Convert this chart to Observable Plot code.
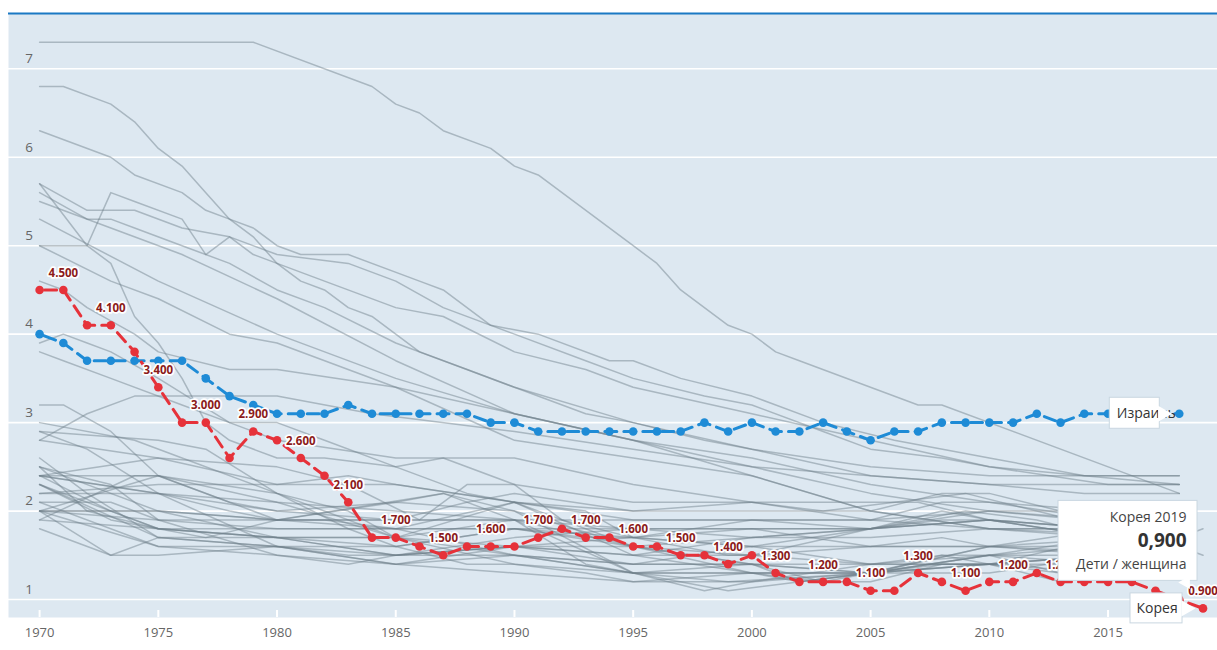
<!DOCTYPE html>
<html><head><meta charset="utf-8">
<script src="https://cdn.jsdelivr.net/npm/d3@7"></script>
<script src="https://cdn.jsdelivr.net/npm/@observablehq/plot@0.6"></script>
<style>html,body{margin:0;padding:0;background:#fff;overflow:hidden;}</style>
</head><body><div id="chart"></div>
<script>
// ---------- tick labels ----------
const xTicks = [1970, 1975, 1980, 1985, 1990, 1995, 2000, 2005, 2010, 2015];
const yTicks = [1, 2, 3, 4, 5, 6, 7];

// ---------- highlighted series ----------
const koreaName = "Корея";
const israelName = "Израиль";
const unitLabel = "Дети / женщина";
const koreaStart = 1970;
const koreaValues = [4.5,4.5,4.1,4.1,3.8,3.4,3.0,3.0,2.6,2.9,
                     2.8,2.6,2.4,2.1,1.7,1.7,1.6,1.5,1.6,1.6,
                     1.6,1.7,1.8,1.7,1.7,1.6,1.6,1.5,1.5,1.4,
                     1.5,1.3,1.2,1.2,1.2,1.1,1.1,1.3,1.2,1.1,
                     1.2,1.2,1.3,1.2,1.2,1.2,1.2,1.1,1.0,0.9];
const israelStart = 1970;
const israelValues = [4.0,3.9,3.7,3.7,3.7,3.7,3.7,3.5,3.3,3.2,
                      3.1,3.1,3.1,3.2,3.1,3.1,3.1,3.1,3.1,3.0,
                      3.0,2.9,2.9,2.9,2.9,2.9,2.9,2.9,3.0,2.9,
                      3.0,2.9,2.9,3.0,2.9,2.8,2.9,2.9,3.0,3.0,
                      3.0,3.0,3.1,3.0,3.1,3.1,3.1,3.1,3.1];
// years whose value labels are hidden behind the tooltip in the reference
const hiddenLabelYears = [2015, 2017];

// ---------- other countries (grey), [year, value] ----------
const g01 = [[1970,7.3],[1979,7.3],[1984,6.8],[1985,6.6],[1986,6.5],[1987,6.3],[1989,6.1],[1990,5.9],[1991,5.8],[1995,5.0],[1996,4.8],[1997,4.5],[1999,4.1],[2000,4.0],[2001,3.8],[2002,3.7],[2007,3.2],[2008,3.2],[2018,2.2]];
const g02 = [[1970,6.8],[1971,6.8],[1973,6.6],[1974,6.4],[1975,6.1],[1976,5.9],[1977,5.6],[1978,5.3],[1979,5.1],[1980,4.8],[1981,4.6],[1982,4.5],[1983,4.3],[1984,4.2],[1985,4.0],[1986,3.8],[1988,3.6],[1990,3.4],[1995,3.0],[2000,2.7],[2005,2.4],[2010,2.3],[2014,2.2],[2018,2.2]];
const g03 = [[1970,6.3],[1973,6.0],[1974,5.8],[1976,5.6],[1977,5.4],[1978,5.3],[1979,5.2],[1980,5.0],[1981,4.9],[1983,4.9],[1986,4.6],[1987,4.5],[1989,4.1],[1991,4.0],[1994,3.7],[1995,3.7],[1997,3.5],[2000,3.3],[2003,3.0],[2006,2.8],[2010,2.6],[2014,2.4],[2018,2.4]];
const g04 = [[1970,5.7],[1972,5.0],[1973,4.8],[1974,4.2],[1975,3.9],[1976,3.5],[1977,3.0],[1978,2.8],[1980,2.6],[1982,2.6],[1985,2.5],[1987,2.6],[1990,2.3],[1992,1.9],[1995,1.7],[2000,1.6],[2010,1.6],[2016,1.7],[2018,1.6]];
const g05 = [[1970,5.0],[1972,5.0],[1973,5.6],[1974,5.5],[1976,5.3],[1977,4.9],[1978,5.1],[1979,4.9],[1980,4.8],[1982,4.6],[1985,4.3],[1987,4.2],[1990,3.8],[1993,3.6],[1995,3.4],[2000,3.1],[2005,2.8],[2010,2.5],[2015,2.3],[2018,2.3]];
const g06 = [[1970,5.7],[1972,5.4],[1974,5.4],[1976,5.2],[1978,5.1],[1980,4.9],[1983,4.8],[1985,4.6],[1987,4.3],[1990,4.0],[1993,3.7],[1995,3.5],[1998,3.3],[2000,3.2],[2003,2.9],[2005,2.7],[2008,2.6],[2010,2.5],[2014,2.4],[2018,2.3]];
const g07 = [[1970,5.6],[1972,5.3],[1973,5.3],[1974,5.2],[1976,5.0],[1978,4.8],[1980,4.5],[1982,4.3],[1985,3.9],[1988,3.6],[1990,3.4],[1993,3.1],[1995,3.0],[1998,2.8],[2000,2.7],[2005,2.5],[2010,2.4],[2018,2.4]];
const g08 = [[1970,5.5],[1973,5.2],[1976,4.9],[1980,4.4],[1985,3.7],[1990,3.1],[1995,2.8],[2000,2.6],[2005,2.3],[2010,2.1],[2015,2.0],[2018,2.0]];
const g09 = [[1970,5.3],[1975,4.6],[1980,4.0],[1985,3.5],[1990,3.1],[1995,2.8],[2000,2.5],[2005,2.2],[2010,2.0],[2018,1.8]];
const g10 = [[1970,5.0],[1973,4.6],[1975,4.4],[1978,4.0],[1980,3.9],[1985,3.4],[1990,2.8],[1995,2.6],[2000,2.4],[2005,2.0],[2010,1.8],[2015,1.8],[2018,1.7]];
const g11 = [[1970,4.6],[1971,4.5],[1972,4.3],[1974,4.0],[1975,3.8],[1978,3.6],[1980,3.6],[1985,3.4],[1990,3.1],[1995,2.8],[2000,2.4],[2005,2.0],[2010,1.8],[2018,1.7]];
const g12 = [[1970,3.9],[1971,4.0],[1972,3.9],[1973,3.8],[1975,3.5],[1978,3.0],[1980,2.8],[1985,2.6],[1990,2.6],[1995,2.3],[2000,2.1],[2005,1.9],[2010,1.8],[2015,1.8],[2018,1.7]];
const g13 = [[1970,3.8],[1971,3.7],[1973,3.5],[1976,3.2],[1978,3.0],[1980,3.0],[1982,2.8],[1985,2.5],[1988,2.2],[1990,2.1],[1995,1.9],[2000,1.9],[2005,1.9],[2008,2.1],[2010,2.1],[2015,1.9],[2018,1.8]];
const g14 = [[1970,2.8],[1972,3.1],[1974,3.3],[1980,3.3],[1984,3.1],[1990,2.9],[1995,2.7],[2000,2.5],[2005,2.4],[2010,2.3],[2018,2.3]];
const g15 = [[1970,3.2],[1971,3.2],[1973,2.9],[1975,2.4],[1978,2.1],[1980,2.0],[1985,1.9],[1988,2.1],[1990,2.2],[1995,2.0],[2000,2.0],[2005,2.0],[2008,2.2],[2010,2.2],[2013,2.0],[2015,2.0],[2018,1.7]];
const g16 = [[1970,3.0],[1974,2.8],[1976,2.6],[1980,2.2],[1983,2.0],[1985,1.7],[1990,1.6],[1995,1.4],[2000,1.6],[2005,1.4],[2010,1.4],[2013,1.2],[2016,1.4],[2018,1.4]];
const g17 = [[1970,2.9],[1975,2.8],[1977,2.7],[1980,2.2],[1983,1.8],[1985,1.6],[1988,1.4],[1990,1.4],[1993,1.3],[1995,1.2],[2000,1.2],[2005,1.3],[2008,1.4],[2010,1.4],[2013,1.3],[2018,1.3]];
const g18 = [[1970,2.9],[1972,2.7],[1975,2.2],[1978,2.0],[1980,1.9],[1990,1.9],[1995,1.8],[2000,1.8],[2005,1.8],[2008,2.0],[2010,1.9],[2015,1.8],[2018,1.7]];
const g19 = [[1970,2.8],[1975,2.6],[1980,2.5],[1983,2.3],[1986,1.9],[1988,2.3],[1990,2.3],[1995,2.1],[2000,2.1],[2003,2.0],[2009,2.2],[2012,2.0],[2015,1.8],[2018,1.7]];
const g20 = [[1970,2.6],[1972,2.2],[1975,1.7],[1980,1.6],[1983,1.5],[1985,1.5],[1990,1.6],[1995,1.5],[2000,1.7],[2005,1.7],[2010,1.8],[2015,1.7],[2018,1.6]];
const g21 = [[1970,2.5],[1973,2.3],[1975,1.9],[1980,1.9],[1982,1.9],[1985,1.8],[1990,1.8],[1993,1.7],[1995,1.7],[2000,1.9],[2005,1.9],[2010,2.0],[2015,2.0],[2018,1.9]];
const g22 = [[1970,2.5],[1972,2.0],[1975,1.8],[1980,1.8],[1985,1.8],[1990,2.1],[1995,2.0],[2000,2.1],[2007,2.1],[2010,1.9],[2015,1.8],[2018,1.7]];
const g23 = [[1970,2.5],[1975,2.0],[1980,1.7],[1985,1.7],[1990,1.9],[1995,1.9],[2000,1.9],[2005,1.8],[2009,2.0],[2012,1.9],[2015,1.7],[2018,1.6]];
const g24 = [[1970,2.4],[1973,2.0],[1975,1.8],[1977,1.7],[1980,1.9],[1985,1.8],[1990,1.8],[1995,1.7],[2000,1.6],[2005,1.8],[2010,1.9],[2015,1.8],[2018,1.7]];
const g25 = [[1970,2.4],[1975,2.2],[1980,1.6],[1985,1.4],[1990,1.3],[1995,1.2],[2000,1.3],[2005,1.3],[2010,1.5],[2015,1.4],[2018,1.3]];
const g26 = [[1970,2.4],[1975,2.6],[1980,2.3],[1985,2.3],[1990,2.1],[1995,1.5],[2000,1.3],[2002,1.2],[2005,1.3],[2010,1.4],[2015,1.4],[2018,1.5]];
const g27 = [[1970,2.4],[1975,2.4],[1980,2.2],[1985,1.7],[1990,1.4],[1995,1.3],[2000,1.3],[2005,1.3],[2008,1.5],[2010,1.5],[2013,1.3],[2018,1.4]];
const g28 = [[1970,2.3],[1975,1.8],[1980,1.7],[1985,1.5],[1990,1.5],[1995,1.4],[2000,1.4],[2005,1.4],[2010,1.4],[2015,1.5],[2018,1.5]];
const g29 = [[1970,2.3],[1973,1.9],[1975,1.8],[1980,1.7],[1985,1.6],[1990,1.8],[1995,1.6],[2000,1.5],[2005,1.6],[2008,1.7],[2010,1.6],[2018,1.5]];
const g30 = [[1970,2.3],[1975,1.7],[1980,1.7],[1985,1.5],[1990,1.6],[1995,1.6],[2000,1.7],[2005,1.8],[2010,1.9],[2015,1.7],[2018,1.6]];
const g31 = [[1970,2.2],[1975,2.3],[1980,2.3],[1983,2.4],[1985,2.3],[1990,2.1],[1995,1.6],[2000,1.4],[2003,1.2],[2005,1.2],[2008,1.4],[2010,1.4],[2015,1.3],[2018,1.5]];
const g32 = [[1970,2.2],[1975,2.2],[1980,2.1],[1985,1.7],[1990,1.5],[1995,1.3],[2000,1.3],[2003,1.2],[2005,1.3],[2010,1.6],[2015,1.6],[2018,1.6]];
const g33 = [[1970,2.1],[1973,2.1],[1975,1.9],[1980,1.8],[1985,1.8],[1990,1.5],[1995,1.4],[2000,1.4],[2005,1.3],[2010,1.4],[2015,1.5],[2018,1.4]];
const g34 = [[1970,2.1],[1975,1.6],[1980,1.6],[1985,1.5],[1990,1.6],[1995,1.5],[2000,1.5],[2005,1.4],[2010,1.5],[2018,1.5]];
const g35 = [[1970,2.0],[1973,1.5],[1975,1.5],[1980,1.6],[1985,1.4],[1990,1.5],[1995,1.3],[2000,1.4],[2005,1.3],[2010,1.4],[2015,1.5],[2018,1.6]];
const g36 = [[1970,2.0],[1975,2.4],[1980,1.9],[1985,1.9],[1990,1.9],[1995,1.6],[2000,1.3],[2005,1.3],[2010,1.3],[2015,1.5],[2018,1.5]];
const g37 = [[1970,2.0],[1975,2.0],[1980,1.9],[1987,2.2],[1990,1.9],[1993,1.4],[1995,1.3],[1999,1.2],[2005,1.3],[2010,1.6],[2015,1.8],[2018,1.6],[2019,1.5]];
const g38 = [[1970,2.0],[1975,1.9],[1980,1.5],[1983,1.4],[1985,1.5],[1990,1.7],[1995,1.8],[2000,1.8],[2005,1.8],[2008,1.9],[2010,1.9],[2015,1.7],[2018,1.7],[2019,1.8]];
const g39 = [[1970,1.9],[1975,1.8],[1980,1.7],[1985,1.7],[1990,2.1],[1993,2.0],[1995,1.7],[1999,1.5],[2000,1.5],[2005,1.8],[2010,2.0],[2015,1.9],[2018,1.8]];
const g40 = [[1970,1.9],[1974,2.4],[1975,2.4],[1980,2.1],[1985,2.0],[1990,1.9],[1995,1.3],[1999,1.1],[2005,1.3],[2010,1.5],[2015,1.6],[2018,1.7]];
const g41 = [[1970,1.8],[1973,1.5],[1975,1.7],[1980,1.6],[1985,1.6],[1990,1.8],[1995,1.8],[2000,1.7],[2005,1.8],[2010,1.9],[2015,1.7],[2018,1.4]];
const g42 = [[1970,2.0],[1975,2.0],[1980,1.9],[1985,2.1],[1987,2.2],[1990,2.0],[1995,1.3],[1998,1.1],[2000,1.2],[2005,1.4],[2008,1.5],[2010,1.4],[2015,1.7],[2018,1.6]];
const g43 = [[1970,2.4],[1975,2.2],[1980,2.0],[1985,2.1],[1990,2.0],[1995,1.6],[2000,1.4],[2002,1.2],[2005,1.3],[2010,1.5],[2015,1.7],[2018,1.6]];
const g44 = [[1970,2.0],[1975,1.6],[1980,1.5],[1985,1.4],[1990,1.6],[1995,1.7],[2000,1.8],[2005,1.6],[2010,1.6],[2015,1.5],[2018,1.4]];

const greySeries = [g01,g02,g03,g04,g05,g06,g07,g08,g09,g10,g11,g12,g13,g14,g15,g16,g17,g18,g19,g20,g21,g22,
                    g23,g24,g25,g26,g27,g28,g29,g30,g31,g32,g33,g34,g35,g36,g37,g38,g39,g40,g41,g42,g43,g44];

// ---------- tables built from the arrays ----------
const grey = greySeries.flatMap((s, k) => s.map(([year, value]) => ({id: k, year, value})));
const korea = koreaValues.map((value, i) => ({year: koreaStart + i, value}));
const israel = israelValues.map((value, i) => ({year: israelStart + i, value}));
const koreaLabels = korea.filter(d => d.year % 2 === 1 && !hiddenLabelYears.includes(d.year));
const koreaLast = korea[korea.length - 1];
const israelAnchor = israel.find(d => d.year === 2016);

const fmtDot = d3.format(".3f");
const fmtComma = v => d3.format(".3f")(v).replace(".", ",");

const BG = "#dde8f1";
const RED = "#e6323a";
const BLUE = "#1e8bd6";
const LABEL = "#8b1a1a";
const AXIS = "#666";
const FONT = "'Open Sans', 'Noto Sans', sans-serif";

const chart = Plot.plot({
  width: 1217,
  height: 650,
  marginTop: 13,
  marginBottom: 33,
  marginLeft: 8,
  marginRight: 0,
  style: {fontFamily: FONT, background: "#fff"},
  x: {domain: [1968.69, 2019.61], axis: null},
  y: {domain: [0.797, 7.625], axis: null},
  marks: [
    Plot.frame({fill: BG, stroke: null}),
    Plot.ruleY(yTicks, {stroke: "#fff", strokeWidth: 1.6}),
    Plot.ruleX(xTicks, {stroke: "#fff", strokeWidth: 2, insetTop: 597}),
    Plot.ruleY([7.625], {stroke: "#1b79c4", strokeWidth: 2}),
    // grey countries
    Plot.line(grey, {x: "year", y: "value", z: "id", stroke: "#6f7f8a", strokeOpacity: 0.47, strokeWidth: 1.5}),
    // Israel
    Plot.line(israel, {x: "year", y: "value", stroke: BLUE, strokeWidth: 3, strokeDasharray: "12,7", strokeDashoffset: -5}),
    Plot.dot(israel, {x: "year", y: "value", r: 4.3, fill: BLUE}),
    // Korea
    Plot.line(korea, {x: "year", y: "value", stroke: RED, strokeWidth: 3, strokeDasharray: "12,7", strokeDashoffset: -5}),
    Plot.dot(korea, {x: "year", y: "value", r: 4.3, fill: RED}),
    Plot.text(koreaLabels, {x: "year", y: "value", text: d => fmtDot(d.value), dy: -17,
      fill: LABEL, stroke: "#fff", strokeWidth: 3.5, paintOrder: "stroke", fontWeight: "bold", fontSize: 11.5}),
    // Israel callout
    Plot.rect([israelAnchor], {x1: "year", x2: "year", y1: "value", y2: "value",
      insetLeft: -22, insetRight: -28, insetTop: -16, insetBottom: -15, fill: "#fff", stroke: "#c9d7e1"}),
    Plot.text([israelAnchor], {x: "year", y: "value", text: () => israelName, dx: -15, textAnchor: "start",
      fill: "#333", fontSize: 14}),
    Plot.dot([israelAnchor], {x: "year", y: "value", dx: 31, symbol: "triangle", rotate: 90, r: 6, fill: "#fff"}),
    // tooltip
    Plot.rect([koreaLast], {x1: "year", x2: "year", y1: "value", y2: "value", dx: -75, dy: -67.5,
      insetLeft: -69.5, insetRight: -69.5, insetTop: -40, insetBottom: -40, fill: "#fff", stroke: "#c9d7e1"}),
    Plot.dot([koreaLast], {x: "year", y: "value", dx: -17, dy: -26, symbol: "triangle", rotate: 150, r: 5, fill: "#fff"}),
    Plot.text([koreaLast], {x: "year", y: "value", text: d => `${koreaName} ${d.year}`, dx: -16.5, dy: -91,
      textAnchor: "end", fill: "#444", fontSize: 14}),
    Plot.text([koreaLast], {x: "year", y: "value", text: d => fmtComma(d.value), dx: -16.5, dy: -67,
      textAnchor: "end", fill: "#333", fontSize: 19, fontWeight: "bold"}),
    Plot.text([koreaLast], {x: "year", y: "value", text: () => unitLabel, dx: -16.5, dy: -44,
      textAnchor: "end", fill: "#444", fontSize: 14}),
    // Korea callout
    Plot.rect([koreaLast], {x1: "year", x2: "year", y1: "value", y2: "value", dx: -46.5,
      insetLeft: -26, insetRight: -26, insetTop: -15, insetBottom: -15, fill: "#fff", stroke: "#c9d7e1"}),
    Plot.text([koreaLast], {x: "year", y: "value", text: () => koreaName, dx: -66.5, textAnchor: "start",
      fill: "#333", fontSize: 14}),
    Plot.dot([koreaLast], {x: "year", y: "value", dx: -17, symbol: "triangle", rotate: 90, r: 6, fill: "#fff"}),
    // axis labels
    Plot.text(yTicks, {y: d => d, frameAnchor: "left", dx: 20.5, dy: -10, text: d => String(d),
      textAnchor: "middle", fill: AXIS, fontSize: 13.5}),
    Plot.text(xTicks, {x: d => d, frameAnchor: "bottom", dy: 19, text: d => String(d),
      fill: AXIS, fontSize: 13})
  ]
});
document.getElementById("chart").appendChild(chart);
</script>
</body></html>
